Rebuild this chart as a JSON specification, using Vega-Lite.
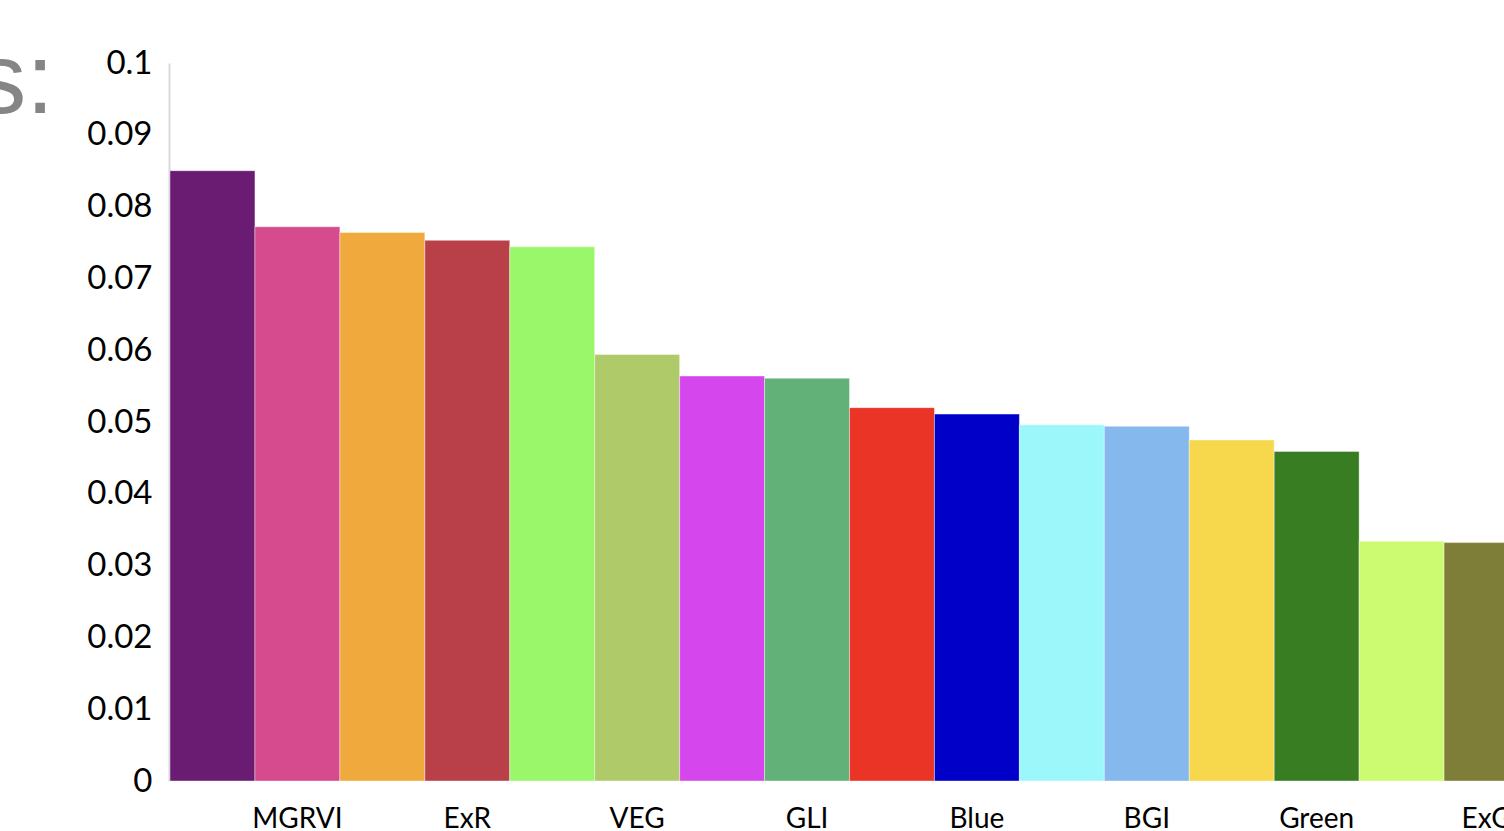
{
  "$schema": "https://vega.github.io/schema/vega-lite/v6.json",
  "width": 1334,
  "height": 718,
  "autosize": {"type": "none"},
  "padding": {"left": 170, "top": 63, "right": 0, "bottom": 50},
  "background": "white",
  "title": {
    "text": "s:",
    "anchor": "start",
    "frame": "group",
    "align": "right",
    "baseline": "alphabetic",
    "font": "Liberation Sans",
    "fontSize": 100,
    "fontWeight": "normal",
    "color": "#858585",
    "offset": 0,
    "dx": -116,
    "dy": 166
  },
  "config": {"view": {"stroke": null}},
  "data": {
    "values": [
      {"rank": 1, "label": "", "value": 0.0850},
      {"rank": 2, "label": "MGRVI", "value": 0.0772},
      {"rank": 3, "label": "", "value": 0.0764},
      {"rank": 4, "label": "ExR", "value": 0.0753},
      {"rank": 5, "label": "", "value": 0.0744},
      {"rank": 6, "label": "VEG", "value": 0.0594},
      {"rank": 7, "label": "", "value": 0.0564},
      {"rank": 8, "label": "GLI", "value": 0.0561},
      {"rank": 9, "label": "", "value": 0.0520},
      {"rank": 10, "label": "Blue", "value": 0.0511},
      {"rank": 11, "label": "", "value": 0.0496},
      {"rank": 12, "label": "BGI", "value": 0.0494},
      {"rank": 13, "label": "", "value": 0.0475},
      {"rank": 14, "label": "Green", "value": 0.0459},
      {"rank": 15, "label": "", "value": 0.0334},
      {"rank": 16, "label": "ExG", "value": 0.0332}
    ]
  },
  "encoding": {
    "x": {
      "field": "rank",
      "type": "ordinal",
      "scale": {"range": [0, 1359], "paddingInner": 0, "paddingOuter": 0},
      "axis": null
    }
  },
  "layer": [
    {
      "mark": {"type": "bar", "clip": true, "stroke": "#ffffff", "strokeWidth": 0.8, "strokeOpacity": 0.5},
      "encoding": {
        "y": {
          "field": "value",
          "type": "quantitative",
          "scale": {"domain": [0, 0.1], "nice": false, "zero": true},
          "axis": {
            "values": [0, 0.01, 0.02, 0.03, 0.04, 0.05, 0.06, 0.07, 0.08, 0.09, 0.1],
            "format": ".2~f",
            "ticks": false,
            "grid": false,
            "title": null,
            "offset": 1,
            "domainColor": "#D9D9D9",
            "domainWidth": 2,
            "labelFont": "Lato",
            "labelFontSize": 33,
            "labelColor": "#000000",
            "labelPadding": 17,
            "labelOverlap": false
          }
        },
        "color": {
          "field": "rank",
          "type": "ordinal",
          "scale": {
            "domain": [1, 2, 3, 4, 5, 6, 7, 8, 9, 10, 11, 12, 13, 14, 15, 16],
            "range": ["#6A1C73", "#D64A8E", "#F0A93D", "#B93F48", "#9AF76A", "#AFCA69", "#D546EC", "#62B179", "#E93426", "#0000C8", "#9CF7FA", "#85B8EC", "#F7D74C", "#387D22", "#CCFB72", "#7F7E38"]
          },
          "legend": null
        }
      }
    },
    {
      "mark": {"type": "text", "align": "center", "baseline": "alphabetic", "dy": 47, "font": "Lato", "fontSize": 28, "color": "#000000"},
      "encoding": {
        "y": {"datum": 0, "type": "quantitative"},
        "text": {"field": "label"}
      }
    }
  ]
}
